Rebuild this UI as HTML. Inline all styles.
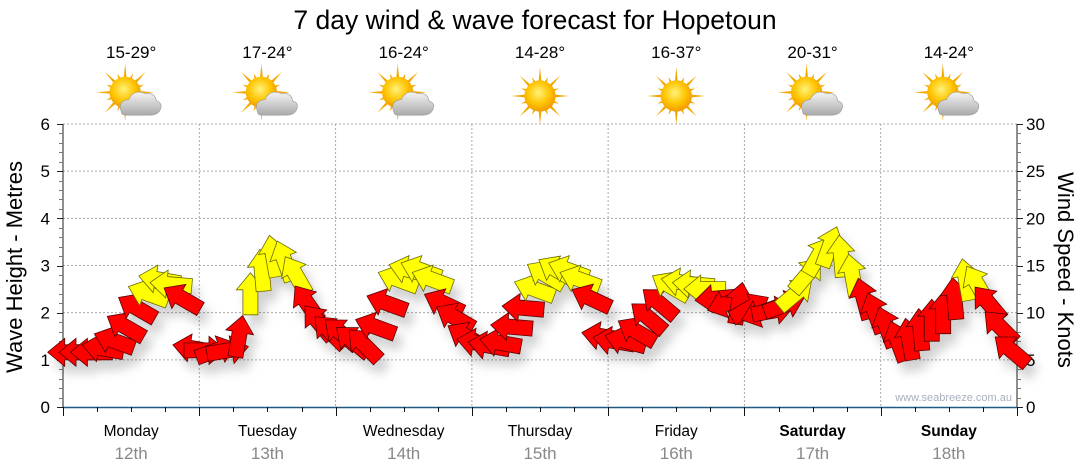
<!DOCTYPE html>
<html><head><meta charset="utf-8">
<style>
html,body{margin:0;padding:0;background:#fff;width:1080px;height:475px;overflow:hidden;font-family:"Liberation Sans",sans-serif;}
svg text{font-family:"Liberation Sans",sans-serif;}
</style></head>
<body>
<svg id="chart" width="1080" height="475" viewBox="0 0 1080 475" xmlns="http://www.w3.org/2000/svg">
<defs>
<filter id="sh" x="-50%" y="-50%" width="200%" height="200%">
<feDropShadow dx="6" dy="10" stdDeviation="5" flood-color="#000" flood-opacity="0.18"/>
</filter>
<radialGradient id="sunG" cx="0.45" cy="0.4" r="0.6"><stop offset="0" stop-color="#fff27a"/><stop offset="0.6" stop-color="#ffc400"/><stop offset="1" stop-color="#f09a00"/></radialGradient>
<linearGradient id="cloudG" x1="0" y1="0" x2="0" y2="1"><stop offset="0" stop-color="#f4f4f4"/><stop offset="1" stop-color="#a9a9a9"/></linearGradient>
</defs>
<text x="535" y="29" font-size="26.5" text-anchor="middle" fill="#000">7 day wind &amp; wave forecast for Hopetoun</text>
<g id="header"></g>
<g id="grid"></g>
<g id="axes"></g>
<g id="arrows" filter="url(#sh)"></g>
<text x="1012" y="401" font-size="11" text-anchor="end" fill="#a8b0c0">www.seabreeze.com.au</text>
<text transform="translate(22,267) rotate(-90)" font-size="22" text-anchor="middle" fill="#000">Wave Height - Metres</text>
<text transform="translate(1058,270) rotate(90)" font-size="22" text-anchor="middle" fill="#000">Wind Speed - Knots</text>
</svg>
<script>
const days = ["Monday","Tuesday","Wednesday","Thursday","Friday","Saturday","Sunday"];
const dates = ["12th","13th","14th","15th","16th","17th","18th"];
const temps = ["15-29°","17-24°","16-24°","14-28°","16-37°","20-31°","14-24°"];
const icons = ["partly","partly","partly","sunny","sunny","partly","partly"];
const waveTicks = [0,1,2,3,4,5,6];
const windTicks = [0,5,10,15,20,25,30];
// wind speed (knots), 2-hourly
const windSpeed = [
5.8,5.8,5.8,6.2,7,8.5,10.5,12,13.5,13,11.5,6.2,
6,6,6,7.5,12,14.5,16,15.5,14,11,9,8,
7.8,7,6.6,8.5,11,13.5,14.5,14.5,13.5,11,9.5,7.5,
6.8,6.5,6.8,8.5,10.5,12.5,14,14.5,14.5,13.5,11.5,7.5,
7,7,8,9.5,11,12.8,13.2,13,12.5,11.5,11,11,
10.5,10,10.2,10.8,12,14,16,17,16,14,11.5,10,
8.5,7,7.2,8.2,9.2,10,11.5,13.5,13,11,8.5,6
];
// arrow pointing direction (deg, 0=right, 90=up)
const windDir = [
180,180,180,170,160,150,150,160,170,175,150,170,
0,20,10,80,90,95,100,110,120,125,130,135,
140,140,135,160,160,160,165,160,160,155,150,150,
170,170,170,175,175,160,150,150,160,160,155,170,
170,165,150,140,140,150,170,175,180,185,200,80,
30,200,10,20,40,50,60,70,95,100,105,110,
110,110,100,95,90,90,95,100,120,130,135,140
];
const NS="http://www.w3.org/2000/svg";
const X0=63,X1=1017,Y0=407,Y1=124;
const dayW=(X1-X0)/7;
const yWave=v=>Y0-(v/6)*(Y0-Y1);
const yWind=v=>Y0-(v/30)*(Y0-Y1);
const xSlot=i=>X0+(i+0.5)*(X1-X0)/windSpeed.length;
function mk(tag,attrs,parent){const e=document.createElementNS(NS,tag);for(const k in attrs)e.setAttribute(k,attrs[k]);parent.appendChild(e);return e;}
const grid=document.getElementById('grid'),axes=document.getElementById('axes'),arrows=document.getElementById('arrows'),header=document.getElementById('header');
waveTicks.forEach(v=>{if(v===0)return;const l=mk('line',{x1:X0,x2:X1,y1:yWave(v),y2:yWave(v),stroke:'#aaa','stroke-dasharray':'2,2','stroke-width':1},grid);

});
for(let d=1;d<7;d++){const x=X0+d*dayW;const l=mk('line',{x1:x,x2:x,y1:Y1,y2:Y0,stroke:'#aaa','stroke-dasharray':'2,2'},grid);

}
mk('line',{x1:X0,x2:X0,y1:Y1,y2:Y0,stroke:'#222','stroke-width':1},axes);
mk('line',{x1:X1,x2:X1,y1:Y1,y2:Y0,stroke:'#222','stroke-width':1},axes);
const xl=mk('line',{x1:X0,x2:X1,y1:Y0+0.5,y2:Y0+0.5,stroke:'#1f5a85','stroke-width':1.5},axes);


for(let i=0;i<=30;i++){const v=i*0.2;const y=Math.round(yWave(v))+0.5;const major=i%5===0;
mk('line',{x1:X0-(major?6:4),x2:X0,y1:y,y2:y,stroke:major?'#222':'#777'},axes);}
waveTicks.forEach(v=>{const t=mk('text',{x:50,y:yWave(v)+6,'font-size':17,'text-anchor':'end',fill:'#000'},axes);t.textContent=v;

});
for(let i=0;i<=30;i++){const y=Math.round(yWind(i))+0.5;const major=i%5===0;
mk('line',{x1:X1,x2:X1+(major?6:4),y1:y,y2:y,stroke:major?'#222':'#777'},axes);}
windTicks.forEach(v=>{const t=mk('text',{x:1026,y:yWind(v)+6,'font-size':17,'text-anchor':'start',fill:'#000'},axes);t.textContent=v;

});
for(let i=0;i<=28;i++){const x=Math.round(X0+i*dayW/4)+0.5;const major=i%4===0;
mk('line',{x1:x,x2:x,y1:Y0,y2:Y0+(major?9:5),stroke:'#111'},axes);}
days.forEach((d,i)=>{const cx=X0+(i+0.5)*dayW;const wk=i>=5;
const t=mk('text',{x:cx,y:436,'font-size':15.5,'text-anchor':'middle',fill:'#000','font-weight':wk?'bold':'normal'},axes);t.textContent=d;


const t2=mk('text',{x:cx,y:459,'font-size':17,'text-anchor':'middle',fill:'#888'},axes);t2.textContent=dates[i];


const t3=mk('text',{x:cx,y:58,'font-size':17,'text-anchor':'middle',fill:'#000'},header);t3.textContent=temps[i];


const g=mk('g',{transform:`translate(${cx},96) scale(1.2)`},header);


const sx=icons[i]==='sunny'?0:-5, sy=icons[i]==='sunny'?0:-3;
for(let k=0;k<16;k++){const a=k*Math.PI/8;const r=k%2?17:24;
mk('polygon',{points:`${sx+Math.cos(a-0.12)*11},${sy+Math.sin(a-0.12)*11} ${sx+Math.cos(a)*r},${sy+Math.sin(a)*r} ${sx+Math.cos(a+0.12)*11},${sy+Math.sin(a+0.12)*11}`,fill:'#f5a800'},g);}
mk('circle',{cx:sx,cy:sy,r:13,fill:'url(#sunG)'},g);
if(icons[i]!=='sunny'){
mk('path',{d:'M-8,14 Q-12,4 -2,3 Q2,-6 12,-2 Q20,-3 21,4 Q27,6 24,12 Q22,16 16,16 L-4,16 Q-8,16 -8,14 Z',fill:'url(#cloudG)',stroke:'#999','stroke-width':0.5},g);}
});
const L=42,SW=7.5,HW=14,HL=17;
windSpeed.forEach((s,i)=>{
const x=xSlot(i),y=yWind(s);
const p=mk('polygon',{points:`${-L/2},${-SW} ${L/2-HL},${-SW} ${L/2-HL},${-HW} ${L/2},0 ${L/2-HL},${HW} ${L/2-HL},${SW} ${-L/2},${SW}`,
fill:s>=12?'#ffff00':'#ff0000',stroke:s>=12?'#6b6b00':'#5a0000','stroke-width':0.8,
transform:`translate(${x.toFixed(1)},${y.toFixed(1)}) rotate(${-windDir[i]})`},arrows);


});
</script>
</body></html>
